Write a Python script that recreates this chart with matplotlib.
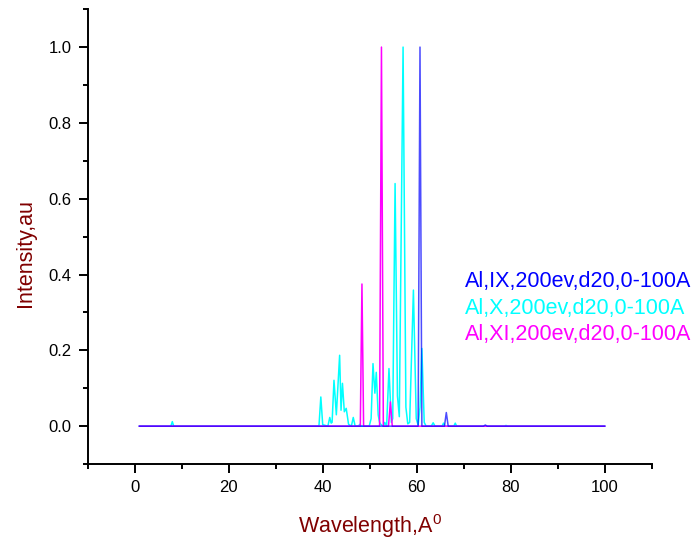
import numpy as np
import matplotlib
matplotlib.use("Agg")
import matplotlib.pyplot as plt
from matplotlib.ticker import MultipleLocator

plt.rcParams['font.family'] = ['Liberation Sans', 'DejaVu Sans']
plt.rcParams['mathtext.default'] = 'regular'

# Al IX spectrum (wavelength in A, normalised intensity)
ix_wl = [1.0, 60.3, 60.7, 61.1, 65.9, 66.3, 66.7, 74.2, 74.6, 75.0, 100.0]
ix_int = [0, 0, 1.0, 0, 0, 0.036, 0, 0, 0.003, 0, 0]

# Al X spectrum
x_wl = [1.0, 7.7, 8.0, 8.3,
        39.2, 39.6, 40.0, 41.1, 41.5, 41.8, 42.0, 42.4, 42.9, 43.6, 43.9,
        44.2, 44.6, 45.0, 45.5, 46.1, 46.5, 46.9, 47.6, 47.9, 48.2,
        49.9, 50.3, 50.7, 51.1, 51.4, 51.8, 52.1, 52.4, 52.9, 53.2, 53.6,
        54.1, 54.6, 54.9, 55.4, 55.9, 56.3, 57.1, 57.7, 58.1, 58.5,
        59.3, 59.9, 60.3, 60.7, 61.1, 61.6, 62.0,
        63.1, 63.5, 63.9, 65.4, 65.7, 66.0, 67.9, 68.2, 68.5,
        78.7, 79.0, 79.3, 100.0]
x_int = [0, 0, 0.012, 0,
         0, 0.077, 0.004, 0, 0.023, 0.008, 0.01, 0.121, 0.03, 0.187, 0.042,
         0.113, 0.038, 0.047, 0.005, 0, 0.023, 0, 0, 0.005, 0,
         0, 0.02, 0.165, 0.087, 0.142, 0.03, 0.01, 0.004, 0, 0.01, 0,
         0.152, 0.01, 0.02, 0.64, 0.08, 0.025, 1.0, 0.05, 0.006, 0.01,
         0.359, 0.02, 0.003, 0.05, 0.205, 0.01, 0,
         0, 0.009, 0, 0, 0.008, 0, 0, 0.008, 0,
         0, 0.002, 0, 0]

# Al XI spectrum
xi_wl = [1.0, 48.0, 48.35, 48.7, 52.1, 52.5, 52.9, 54.0, 54.4, 54.8, 100.0]
xi_int = [0, 0, 0.375, 0, 0, 1.0, 0, 0, 0.064, 0, 0]

labels = ['Al,IX,200ev,d20,0-100A', 'Al,X,200ev,d20,0-100A', 'Al,XI,200ev,d20,0-100A']
colors = ['#0000ff', '#00ffff', '#ff00ff']

fig = plt.figure(figsize=(7.0, 5.39), dpi=100)
ax = fig.add_axes([0.1253, 0.139, 0.8057, 0.844])

ax.plot(x_wl, x_int, color=colors[1], lw=1.1)
ax.plot(xi_wl, xi_int, color=colors[2], lw=1.1)
ax.plot(ix_wl, ix_int, color=colors[0], lw=1.1, alpha=0.7)

ax.set_xlim(-10, 110)
ax.set_ylim(-0.1, 1.1)

for side in ['top', 'right']:
    ax.spines[side].set_visible(False)
for side in ['left', 'bottom']:
    ax.spines[side].set_linewidth(1.4)

ax.xaxis.set_major_locator(MultipleLocator(20))
ax.xaxis.set_minor_locator(MultipleLocator(10))
ax.yaxis.set_major_locator(MultipleLocator(0.2))
ax.yaxis.set_minor_locator(MultipleLocator(0.1))
ax.tick_params(which='major', direction='out', length=6.5, width=1.4, labelsize=12, pad=5)
ax.tick_params(which='minor', direction='out', length=3.8, width=1.4)
ax.yaxis.set_major_formatter(plt.FuncFormatter(lambda v, p: f'{v:.1f}'))

ax.set_xlabel('Wavelength,A$^0$', fontsize=15.5, color='#800000')
ax.set_ylabel('Intensity,au', fontsize=15.5, color='#800000')
ax.xaxis.set_label_coords(0.5, -0.105)
ax.yaxis.set_label_coords(-0.092, 0.465)

for i, (lab, c) in enumerate(zip(labels, colors)):
    ax.text(0.669, 0.402 - 0.059 * i, lab, color=c, fontsize=15.5,
            transform=ax.transAxes, va='center', ha='left')

fig.savefig('out.png', dpi=100)
